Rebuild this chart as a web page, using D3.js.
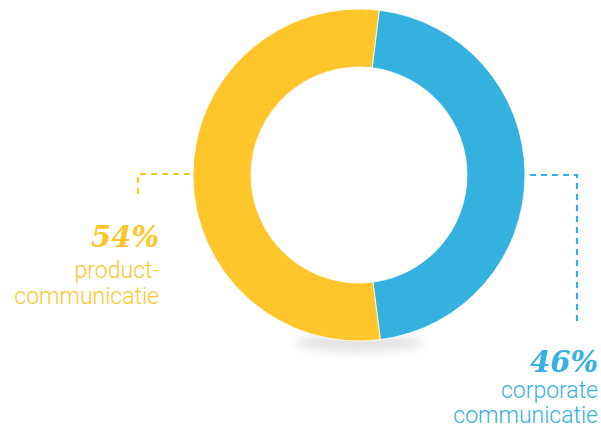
<!DOCTYPE html>
<html>
<head>
<meta charset="utf-8">
<script src="https://cdn.jsdelivr.net/npm/d3@7"></script>
<style>
  html, body { margin: 0; padding: 0; background: #fff; }
  svg { display: block; }
</style>
</head>
<body>
<svg id="chart" width="601" height="431"></svg>
<script>
// Share of communication budget by type
const categories = ["corporate communicatie", "product-communicatie"];
const shares = [46, 54];
const percentLabels = ["46%", "54%"];
const colors = ["#35B1E0", "#FFC62B"];

const svg = d3.select("#chart");
const cx = 359, cy = 175, rOuter = 166, rInner = 108;

// soft shadow under the ring
const defs = svg.append("defs");
defs.append("filter").attr("id", "blur")
  .attr("x", "-50%").attr("y", "-200%").attr("width", "200%").attr("height", "500%")
  .append("feGaussianBlur").attr("stdDeviation", 5);
svg.append("ellipse")
  .attr("cx", cx).attr("cy", 343).attr("rx", 64).attr("ry", 9)
  .attr("fill", "#e3e3e3").attr("filter", "url(#blur)");

const startAngle = 7 * Math.PI / 180;
const pie = d3.pie().sort(null)
  .startAngle(startAngle).endAngle(startAngle + 2 * Math.PI)
  .value(d => d);
const arc = d3.arc().innerRadius(rInner).outerRadius(rOuter);

const g = svg.append("g").attr("transform", `translate(${cx},${cy})`);
g.selectAll("path").data(pie(shares)).join("path")
  .attr("d", arc)
  .attr("fill", (d, i) => colors[i])
  .attr("stroke", "#fff").attr("stroke-width", 0.8);

// dashed leader lines
const dash = "6,5";
svg.append("path")
  .attr("d", `M${cx + rOuter + 5},175 H577 V326`)
  .attr("fill", "none").attr("stroke", colors[0]).attr("stroke-width", 2.2)
  .attr("stroke-dasharray", dash);
svg.append("path")
  .attr("d", `M${cx - rOuter - 3},174 H138 V197`)
  .attr("fill", "none").attr("stroke", colors[1]).attr("stroke-width", 2.2)
  .attr("stroke-dasharray", dash);

// labels
const labels = [
  { x: 598, y: 372, lines: ["corporate", "communicatie"], color: colors[0], pct: percentLabels[0], y0: 398, dy: 25 },
  { x: 159, y: 247, lines: ["product-", "communicatie"], color: colors[1], pct: percentLabels[1], y0: 278, dy: 26 }
];
labels.forEach(l => {
  svg.append("text")
    .attr("x", l.x).attr("y", l.y)
    .attr("text-anchor", "end")
    .attr("font-family", "'DejaVu Serif', 'Liberation Serif', serif")
    .attr("font-weight", "bold").attr("font-style", "italic")
    .attr("font-size", 29)
    .attr("fill", l.color)
    .text(l.pct);
  l.lines.forEach((t, i) => {
    svg.append("text")
      .attr("x", l.x).attr("y", l.y0 + i * l.dy)
      .attr("text-anchor", "end")
      .attr("font-family", "Roboto, 'Liberation Sans', sans-serif")
      .attr("font-weight", 300)
      .attr("font-size", 23)
      .attr("fill", l.color)
      .text(t);
  });
});
</script>
</body>
</html>
